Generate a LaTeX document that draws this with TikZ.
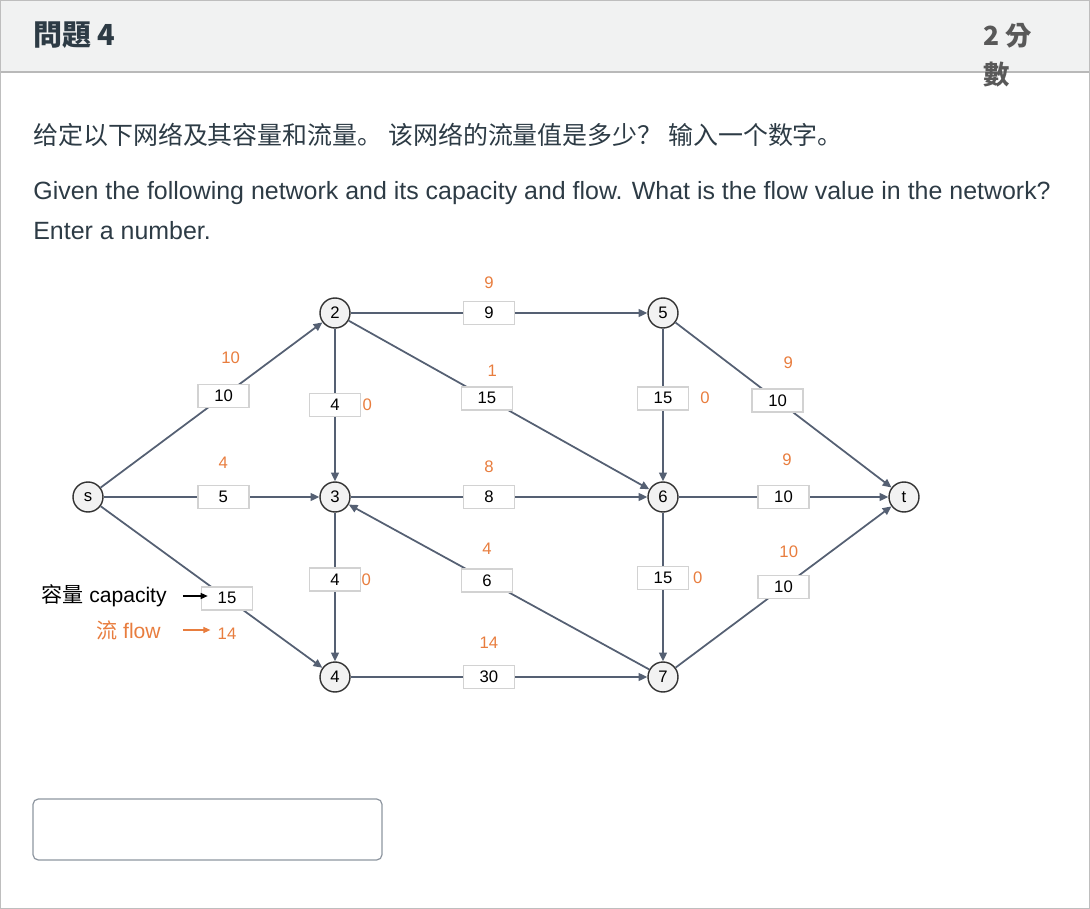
\documentclass[tikz,border=0pt]{standalone}
\usepackage{fontspec}
\setmainfont{Liberation Sans}
\newfontfamily\cjksc{Noto Sans CJK SC}
\newfontfamily\cjktc{Noto Sans CJK TC}
\usepackage{tikz}
\usetikzlibrary{positioning, arrows.meta}
\definecolor{SlateEdge}{RGB}{85,96,115}
\definecolor{FlowOrange}{RGB}{232,125,62}
\definecolor{InkGrey}{RGB}{45,59,69}
\definecolor{HeadGrey}{RGB}{241,242,242}
\definecolor{FrameGrey}{RGB}{190,190,190}
\definecolor{BoxGrey}{RGB}{142,150,160}
\tikzset{
  vtx/.style={circle, draw=black!80, line width=0.8pt, fill=gray!10, text=black, minimum size=0.6cm,
    inner sep=0pt, font=\fontsize{9.5}{11}\selectfont},
  capbox/.style={draw=gray!35, fill=white, text=black, minimum width=1.02cm, minimum height=0.46cm,
    inner sep=0pt, font=\fontsize{9.5}{11}\selectfont},
  flowlab/.style={text=FlowOrange, inner sep=0pt, font=\fontsize{9.5}{11}\selectfont},
  edge/.style={-{Triangle[length=5pt,width=4.5pt]}, line width=1pt, SlateEdge},
  legtxt/.style={anchor=east, inner sep=0pt, font=\fontsize{12}{14}\selectfont},
  legarr/.style={-{Triangle[length=4pt,width=3.5pt]}, line width=0.6pt},
  bodytxt/.style={anchor=west, inner sep=0pt, text=InkGrey, font=\fontsize{14.2}{16}\selectfont},
  ansbox/.style={draw=BoxGrey, line width=0.7pt, rounded corners=3pt, minimum width=6.98cm,
    minimum height=1.22cm, inner sep=0pt},
}
\begin{document}
\begin{tikzpicture}[x=0.02cm, y=-0.02cm]
  \useasboundingbox (0,0) rectangle (1090,909);
  % page frame and header
  \fill[HeadGrey] (0,0) rectangle (1090,72);
  \draw[gray!55, line width=0.7pt] (0,72) -- (1090,72);
  \draw[FrameGrey, line width=1pt] (0.5,0.5) rectangle (1089.5,908.5);
  \node[anchor=west, inner sep=0pt, text=InkGrey, font=\cjktc\bfseries\fontsize{16.5}{18}\selectfont] (title) at (33,35) {問題 4};
  \node[anchor=north west, align=left, inner sep=0pt, text=black!65,
    font=\cjktc\bfseries\fontsize{15}{22}\selectfont] (pts) at (983,23) {2 分\\數};
  \node[bodytxt] (zh) at (33,135) {\cjksc 给定以下网络及其容量和流量。 该网络的流量值是多少？ 输入一个数字。};
  \node[bodytxt] (en1) at (33,193) {Given the following network and its capacity and flow. What is the flow value in the network?};
  \node[bodytxt] (en2) at (33,231) {Enter a number.};
  % vertices
  \foreach \n/\x/\y in {s/88/497, 2/335/313, 3/335/497, 4/335/677, 5/663/313, 6/663/497, 7/663/677, t/904/497}
    \node[vtx] (v\n) at (\x,\y) {\n};
  % edges with capacities
  \draw[edge] (vs) -- node[capbox, pos=0.555] (c-s2) {10} (v2);
  \draw[edge] (vs) -- node[capbox, pos=0.555] (c-s3) {5} (v3);
  \draw[edge] (vs) -- node[capbox, pos=0.57] (c-s4) {15} (v4);
  \draw[edge] (v2) -- node[capbox, pos=0.5] (c-23) {4} (v3);
  \draw[edge] (v3) -- node[capbox, pos=0.45] (c-34) {4} (v4);
  \draw[edge] (v2) -- node[capbox, pos=0.466] (c-25) {9} (v5);
  \draw[edge] (v2) -- node[capbox, pos=0.46] (c-26) {15} (v6);
  \draw[edge] (v3) -- node[capbox, pos=0.466] (c-36) {8} (v6);
  \draw[edge] (v7) -- node[capbox, pos=0.54] (c-73) {6} (v3);
  \draw[edge] (v4) -- node[capbox, pos=0.466] (c-47) {30} (v7);
  \draw[edge] (v5) -- node[capbox, pos=0.455] (c-56) {15} (v6);
  \draw[edge] (v6) -- node[capbox, pos=0.44] (c-67) {15} (v7);
  \draw[edge] (v5) -- node[capbox, pos=0.473] (c-5t) {10} (vt);
  \draw[edge] (v6) -- node[capbox, pos=0.5] (c-6t) {10} (vt);
  \draw[edge] (v7) -- node[capbox, pos=0.5] (c-7t) {10} (vt);
  % flows
  \node[flowlab, above=11pt of c-s2, xshift=4pt] (f-s2) {10};
  \node[flowlab, above=8.8pt of c-s3] (f-s3) {4};
  \node[flowlab, below=9.4pt of c-s4] (f-s4) {14};
  \node[flowlab, right=0.5pt of c-23] (f-23) {0};
  \node[flowlab, right=0pt of c-34] (f-34) {0};
  \node[flowlab, above=6.5pt of c-25] (f-25) {9};
  \node[flowlab, above=5.4pt of c-26, xshift=3pt] (f-26) {1};
  \node[flowlab, above=6.5pt of c-36] (f-36) {8};
  \node[flowlab, above=7.7pt of c-73] (f-73) {4};
  \node[flowlab, above=8.8pt of c-47] (f-47) {14};
  \node[flowlab, right=6pt of c-56] (f-56) {0};
  \node[flowlab, right=2pt of c-67] (f-67) {0};
  \node[flowlab, above=11pt of c-5t, xshift=6pt] (f-5t) {9};
  \node[flowlab, above=10.5pt of c-6t, xshift=2pt] (f-6t) {9};
  \node[flowlab, above=9.4pt of c-7t, xshift=3pt] (f-7t) {10};
  % legend
  \node[legtxt] (cap-leg) at (167,596) {{\cjksc 容量} capacity};
  \node[legtxt, text=FlowOrange] (flow-leg) at (161,630) {{\cjksc 流} flow};
  \draw[legarr, shorten <=9pt, shorten >=-4pt] (cap-leg.east) -- (cap-leg.east -| c-s4.west);
  \draw[legarr, FlowOrange, shorten <=12.5pt, shorten >=4pt] (flow-leg.east) -- (flow-leg.east -| f-s4.west);
  % answer field
  \node[ansbox] (answer) at (207.5,829.5) {};
\end{tikzpicture}
\end{document}
